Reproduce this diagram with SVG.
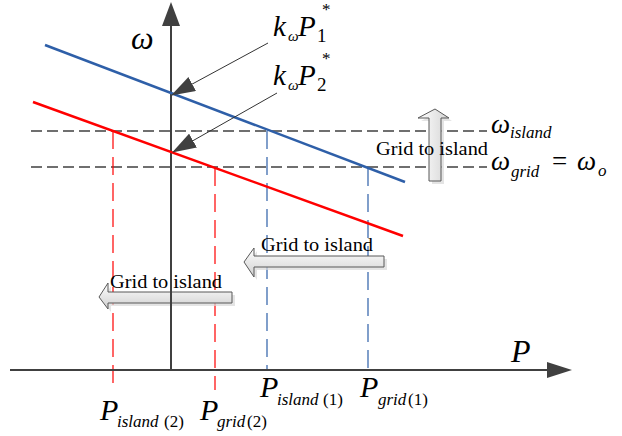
<svg xmlns="http://www.w3.org/2000/svg" width="622" height="436" viewBox="0 0 622 436">
<defs>
<linearGradient id="gv" x1="0" y1="0" x2="1" y2="0"><stop offset="0" stop-color="#ffffff"/><stop offset="1" stop-color="#d4d4d4"/></linearGradient>
<linearGradient id="gh" x1="0" y1="0" x2="0" y2="1"><stop offset="0" stop-color="#ffffff"/><stop offset="1" stop-color="#d0d0d0"/></linearGradient>
<marker id="ptr" viewBox="0 0 24 16" refX="23" refY="8" markerWidth="24" markerHeight="16" markerUnits="userSpaceOnUse" orient="auto"><path d="M0,0 L24,8 L0,16 Z" fill="#404040"/></marker>
<style>
.ax{stroke:#404040;stroke-width:2;fill:none}
.axh{fill:#404040}
.hd{stroke:#404040;stroke-width:1.6;stroke-dasharray:11 5;fill:none}
.bd{stroke:#2E5FA8;stroke-width:1.2;stroke-dasharray:18 8;fill:none}
.rd{stroke:#FF0000;stroke-width:1.2;stroke-dasharray:18 8;fill:none}
text{font-family:'Liberation Serif','Times New Roman',serif;fill:#000}
.m{font-style:italic}
.blk{stroke:#595959;stroke-width:1}
.sh{fill:#d9d9d9;opacity:0.7}
.ptl{stroke:#333;stroke-width:1;fill:none}
</style>
</defs>
<rect width="622" height="436" fill="#ffffff"/>

<g id="guides">
<line class="hd" x1="31" y1="131" x2="487" y2="131"/>
<line class="hd" x1="31" y1="167" x2="487" y2="167"/>
<line class="bd" x1="267" y1="131" x2="267" y2="370"/>
<line class="bd" x1="368" y1="168" x2="368" y2="370"/>
<line class="rd" x1="113" y1="131" x2="113" y2="390"/>
<line class="rd" x1="215" y1="168" x2="215" y2="390"/>
</g>

<g id="arrow-up">
<path class="sh" d="M438,112 L452,121 L444,121 L444,184 L432,184 L432,121 L421,121 Z"/>
<path class="blk" fill="url(#gv)" d="M435,109 L449,118 L441,118 L441,181 L429,181 L429,118 L418,118 Z"/>
<text font-family="Liberation Serif, serif" x="376" y="155" font-size="19" textLength="112" lengthAdjust="spacingAndGlyphs">Grid to island</text>
</g>

<g id="arrow-left-1">
<path class="sh" d="M247,265 L257,251 L257,259 L387,259 L387,270 L257,270 L257,280 Z"/>
<path class="blk" fill="url(#gh)" d="M244,262 L254,248 L254,256 L384,256 L384,267 L254,267 L254,277 Z"/>
<text font-family="Liberation Serif, serif" x="261" y="251" font-size="19" textLength="112" lengthAdjust="spacingAndGlyphs">Grid to island</text>
</g>

<g id="arrow-left-2">
<path class="sh" d="M102,300 L111,286 L111,295 L235,295 L235,306 L111,306 L111,312 Z"/>
<path class="blk" fill="url(#gh)" d="M99,297 L108,283 L108,292 L232,292 L232,303 L108,303 L108,309 Z"/>
<text font-family="Liberation Serif, serif" x="110" y="288" font-size="19" textLength="112" lengthAdjust="spacingAndGlyphs">Grid to island</text>
</g>

<g id="axes">
<line class="ax" x1="10" y1="370" x2="550" y2="370"/>
<path class="axh" d="M572,370 L547,362 L547,378 Z"/>
<line class="ax" x1="171" y1="370" x2="171" y2="22"/>
<path class="axh" d="M171,2 L162,26 L180,26 Z"/>
<text class="m" x="131" y="49" font-size="32">ω</text>
<text class="m" x="511" y="362" font-size="32">P</text>
</g>

<g id="droop-lines">
<line x1="45" y1="45" x2="405" y2="182" stroke="#2E5FA8" stroke-width="2.5"/>
<line x1="33" y1="102" x2="403" y2="236" stroke="#FF0000" stroke-width="2.5"/>
</g>

<g id="connectors">
<line class="ptl" x1="268" y1="43" x2="172" y2="95" marker-end="url(#ptr)"/>
<line class="ptl" x1="277" y1="93" x2="173" y2="152" marker-end="url(#ptr)"/>
</g>

<g id="label-k1">
<text class="m" x="273" y="36" font-size="29">k</text>
<text class="m" x="288" y="41" font-size="15">ω</text>
<text class="m" x="298" y="36" font-size="29">P</text>
<text x="317" y="42" font-size="19">1</text>
<text x="322" y="15" font-size="17">*</text>
</g>
<g id="label-k2">
<text class="m" x="273" y="85" font-size="29">k</text>
<text class="m" x="288" y="90" font-size="15">ω</text>
<text class="m" x="298" y="85" font-size="29">P</text>
<text x="317" y="91" font-size="19">2</text>
<text x="322" y="64" font-size="17">*</text>
</g>

<g id="label-omega-island">
<text class="m" x="491" y="133" font-size="27">ω</text>
<text class="m" x="510" y="138" font-size="17">island</text>
</g>
<g id="label-omega-grid">
<text class="m" x="491" y="170" font-size="27">ω</text>
<text class="m" x="511" y="177" font-size="17">grid</text>
<text x="552" y="170" font-size="27">=</text>
<text class="m" x="577" y="170" font-size="27">ω</text>
<text class="m" x="598" y="176" font-size="17">o</text>
</g>

<g id="label-p-island1">
<text class="m" x="260" y="397" font-size="30">P</text>
<text class="m" x="277" y="405" font-size="17">island</text>
<text x="323" y="405" font-size="17">(1)</text>
</g>
<g id="label-p-grid1">
<text class="m" x="360" y="397" font-size="30">P</text>
<text class="m" x="378" y="405" font-size="17">grid</text>
<text x="408" y="405" font-size="17">(1)</text>
</g>
<g id="label-p-island2">
<text class="m" x="100" y="420" font-size="30">P</text>
<text class="m" x="117" y="427" font-size="17">island</text>
<text x="164" y="427" font-size="17">(2)</text>
</g>
<g id="label-p-grid2">
<text class="m" x="200" y="420" font-size="30">P</text>
<text class="m" x="217" y="427" font-size="17">grid</text>
<text x="247" y="427" font-size="17">(2)</text>
</g>
</svg>
